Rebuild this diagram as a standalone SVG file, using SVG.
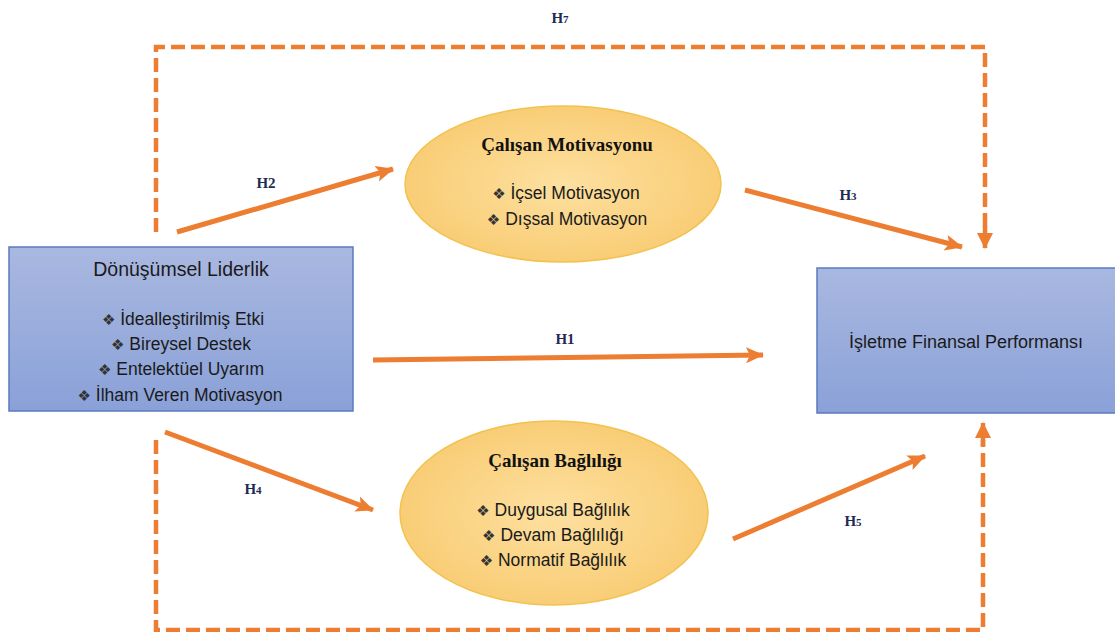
<svg xmlns="http://www.w3.org/2000/svg" width="1115" height="632" viewBox="0 0 1115 632">
<defs>
<linearGradient id="boxg" x1="0" y1="0" x2="0" y2="1">
<stop offset="0" stop-color="#a9b8e0"/>
<stop offset="1" stop-color="#8aa1d8"/>
</linearGradient>
<radialGradient id="ellg" cx="0.5" cy="0.5" r="0.5">
<stop offset="0" stop-color="#fde0a0"/>
<stop offset="1" stop-color="#f9cd76"/>
</radialGradient>
<marker id="ah" markerUnits="userSpaceOnUse" markerWidth="20" markerHeight="18" refX="17" refY="9" orient="auto">
<path d="M0,1 L18,9 L0,17 L4,9 Z" fill="#ed7d31"/>
</marker>
<marker id="ahd" markerUnits="userSpaceOnUse" markerWidth="18" markerHeight="18" refX="15" refY="9" orient="auto">
<path d="M0,1 L16,9 L0,17 Z" fill="#ed7d31"/>
</marker>
</defs>
<style>
.box{fill:url(#boxg);stroke:#5a7bbf;stroke-width:1.5}
.ell{fill:url(#ellg);stroke:#f2c24e;stroke-width:1.5}
.t{font-family:"Liberation Sans","DejaVu Sans",sans-serif;fill:#1a1a1a;text-anchor:middle}
.ttl{font-size:19.5px}
.itm{font-size:17.5px}
.rt{font-size:18px}
.bul{font-family:"DejaVu Sans",sans-serif;font-size:15px;fill:#333}
.st{font-family:"Liberation Serif",serif;font-weight:bold;font-size:19px;fill:#111;text-anchor:middle}
.lbl{font-family:"Liberation Serif",serif;font-weight:bold;font-size:15px;fill:#1f2a55;text-anchor:middle}
.sub{font-size:11px}
.solid{stroke:#ed7d31;stroke-width:5;fill:none;marker-end:url(#ah)}
.dash{stroke:#ed7d31;stroke-width:4.5;fill:none;stroke-dasharray:14 6}
</style>
<rect width="1115" height="632" fill="#ffffff"/>
<g id="connectors">
<path class="dash" d="M156,232 V47 H985 V232" />
<line x1="985" y1="226" x2="985" y2="248" stroke="#ed7d31" stroke-width="4.5" marker-end="url(#ahd)"/>
<path class="dash" d="M156,440 V630 H983 V440" />
<line x1="983" y1="446" x2="983" y2="423" stroke="#ed7d31" stroke-width="4.5" marker-end="url(#ahd)"/>
<line class="solid" x1="177" y1="232" x2="393" y2="169"/>
<line class="solid" x1="745" y1="190" x2="962" y2="247"/>
<line class="solid" x1="373" y1="360" x2="763" y2="355"/>
<line class="solid" x1="165" y1="432" x2="373" y2="510"/>
<line class="solid" x1="733" y1="539" x2="925" y2="456"/>
<text class="lbl" x="560" y="23">H<tspan class="sub">7</tspan></text>
<text class="lbl" x="266" y="188">H2</text>
<text class="lbl" x="848" y="200">H<tspan class="sub">3</tspan></text>
<text class="lbl" x="565" y="344">H1</text>
<text class="lbl" x="253" y="494">H<tspan class="sub">4</tspan></text>
<text class="lbl" x="853" y="526">H<tspan class="sub">5</tspan></text>
</g>
<g id="node-donusumsel">
<rect class="box" x="9" y="247" width="344" height="164"/>
<text class="t ttl" x="181" y="276">Dönüşümsel Liderlik</text>
<text class="t itm" x="183" y="325"><tspan class="bul">❖</tspan>  İdealleştirilmiş Etki</text>
<text class="t itm" x="181" y="350"><tspan class="bul">❖</tspan>  Bireysel Destek</text>
<text class="t itm" x="181" y="375"><tspan class="bul">❖</tspan>  Entelektüel Uyarım</text>
<text class="t itm" x="180" y="401"><tspan class="bul">❖</tspan>  İlham Veren Motivasyon</text>
</g>
<g id="node-motivasyon">
<ellipse class="ell" cx="563" cy="184" rx="158" ry="78"/>
<text class="st" x="567" y="151">Çalışan Motivasyonu</text>
<text class="t itm" x="566" y="199"><tspan class="bul">❖</tspan>  İçsel Motivasyon</text>
<text class="t itm" x="567" y="225"><tspan class="bul">❖</tspan>  Dışsal Motivasyon</text>
</g>
<g id="node-baglilik">
<ellipse class="ell" cx="554" cy="513" rx="154" ry="92"/>
<text class="st" x="555" y="467">Çalışan Bağlılığı</text>
<text class="t itm" x="553" y="516"><tspan class="bul">❖</tspan>  Duygusal Bağlılık</text>
<text class="t itm" x="553" y="541"><tspan class="bul">❖</tspan>  Devam Bağlılığı</text>
<text class="t itm" x="553" y="566"><tspan class="bul">❖</tspan>  Normatif Bağlılık</text>
</g>
<g id="node-performans">
<rect class="box" x="817" y="268" width="310" height="145"/>
<text class="t rt" x="966" y="348">İşletme Finansal Performansı</text>
</g>
</svg>
